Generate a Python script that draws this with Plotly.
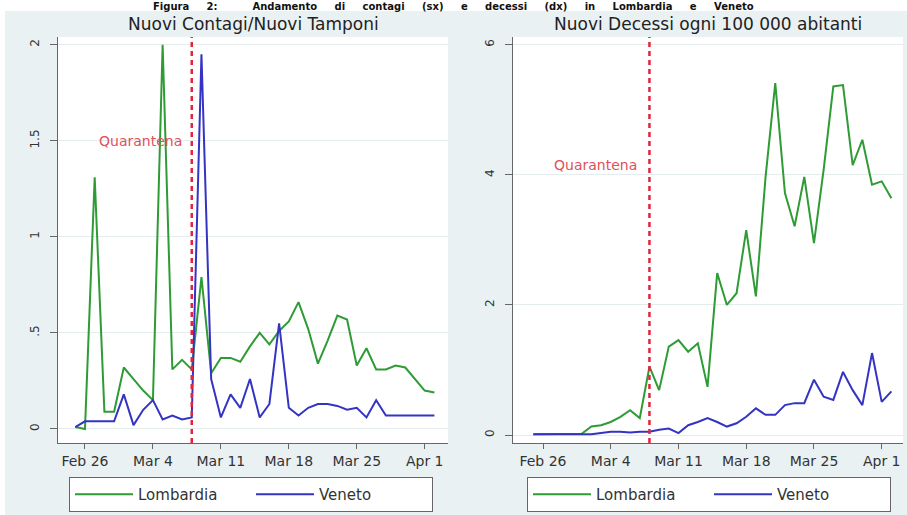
import pandas as pd
import plotly.graph_objects as go

# ---------------- data ----------------
dates = pd.date_range("2020-02-25", "2020-04-02", freq="D")

contagi_lombardia = [0.01, 0.00, 1.31, 0.09, 0.09, 0.32, 0.26, 0.20, 0.15, 2.00,
                     0.31, 0.36, 0.31, 0.79, 0.29, 0.37, 0.37, 0.35, 0.43, 0.50,
                     0.44, 0.51, 0.56, 0.66, 0.52, 0.34, 0.46, 0.59, 0.57, 0.33,
                     0.42, 0.31, 0.31, 0.33, 0.32, 0.26, 0.20, 0.19]
contagi_veneto = [0.01, 0.04, 0.04, 0.04, 0.04, 0.18, 0.02, 0.10, 0.15, 0.05,
                  0.07, 0.05, 0.06, 1.95, 0.26, 0.06, 0.18, 0.11, 0.26, 0.06,
                  0.13, 0.55, 0.11, 0.07, 0.11, 0.13, 0.13, 0.12, 0.10, 0.11,
                  0.06, 0.15, 0.07, 0.07, 0.07, 0.07, 0.07, 0.07]
decessi_lombardia = [0.01, 0.01, 0.02, 0.02, 0.02, 0.02, 0.13, 0.15, 0.20, 0.28,
                     0.38, 0.26, 1.05, 0.69, 1.36, 1.46, 1.28, 1.41, 0.74, 2.49,
                     2.00, 2.18, 3.15, 2.13, 3.97, 5.41, 3.72, 3.21, 3.97, 2.95,
                     4.08, 5.36, 5.38, 4.15, 4.54, 3.85, 3.90, 3.64]
decessi_veneto = [0.01, 0.01, 0.01, 0.01, 0.01, 0.01, 0.01, 0.03, 0.05, 0.05,
                  0.04, 0.05, 0.05, 0.08, 0.10, 0.03, 0.15, 0.20, 0.26, 0.20,
                  0.13, 0.18, 0.28, 0.41, 0.31, 0.31, 0.46, 0.49, 0.49, 0.85,
                  0.59, 0.54, 0.97, 0.69, 0.46, 1.26, 0.51, 0.67]

x_tickvals = ["2020-02-26", "2020-03-04", "2020-03-11", "2020-03-18", "2020-03-25", "2020-04-01"]
x_ticktext = ["Feb 26", "Mar 4", "Mar 11", "Mar 18", "Mar 25", "Apr 1"]
y1_tickvals = [0, 0.5, 1, 1.5, 2]
y1_ticktext = ["0", ".5", "1", "1.5", "2"]
y2_tickvals = [0, 2, 4, 6]
y2_ticktext = ["0", "2", "4", "6"]
quarantena_date = "2020-03-08"
series_names = ["Lombardia", "Veneto"]
caption = "Figura 2:  Andamento di contagi (sx) e decessi (dx) in Lombardia e Veneto"

# ---------------- styling ----------------
W, H = 907, 515
BG = "#EAF1F3"
GREEN = "#2F9B35"
BLUE = "#3434C4"
RED = "#E3243B"
FONT = "DejaVu Sans"

def px_x(p):
    return p / W

def px_y(p):
    return (H - p) / H

base = pd.Timestamp("2020-02-26")
def day(off):
    return base + pd.Timedelta(days=off)

fig = go.Figure()

fig.add_trace(go.Scatter(x=dates, y=contagi_lombardia, mode="lines", name=series_names[0],
                         line=dict(color=GREEN, width=2), xaxis="x", yaxis="y", legend="legend"))
fig.add_trace(go.Scatter(x=dates, y=contagi_veneto, mode="lines", name=series_names[1],
                         line=dict(color=BLUE, width=2), xaxis="x", yaxis="y", legend="legend"))
fig.add_trace(go.Scatter(x=dates, y=decessi_lombardia, mode="lines", name=series_names[0],
                         line=dict(color=GREEN, width=2), xaxis="x2", yaxis="y2", legend="legend2"))
fig.add_trace(go.Scatter(x=dates, y=decessi_veneto, mode="lines", name=series_names[1],
                         line=dict(color=BLUE, width=2), xaxis="x2", yaxis="y2", legend="legend2"))

xaxis_common = dict(type="date", tickmode="array", tickvals=x_tickvals, ticktext=x_ticktext,
                    showgrid=False, zeroline=False, showline=True, linecolor="#666", linewidth=1,
                    ticks="outside", ticklen=5, tickcolor="#666",
                    tickfont=dict(family=FONT, size=14, color="#333"))
yaxis_common = dict(showgrid=True, gridcolor="#E4ECEE", gridwidth=1, zeroline=False,
                    showline=True, linecolor="#666", linewidth=1, ticks="outside", ticklen=7,
                    tickcolor="#666", tickangle=-90, tickmode="array", ticklabelstandoff=6,
                    tickfont=dict(family=FONT, size=12, color="#333"))

legend_common = dict(xanchor="left", y=px_y(477), yanchor="top", orientation="h",
                     bgcolor="white", bordercolor="#666", borderwidth=1,
                     font=dict(family=FONT, size=15, color="#333"),
                     itemwidth=58, entrywidth=108, entrywidthmode="pixels")

fig.update_layout(
    width=W, height=H,
    margin=dict(l=0, r=0, t=0, b=0),
    paper_bgcolor=BG, plot_bgcolor="white",
    xaxis=dict(domain=[px_x(58), px_x(448)], range=[day(-2.78), day(37.4)], anchor="y", **xaxis_common),
    yaxis=dict(domain=[px_y(443), px_y(37)], range=[-0.073, 2.04], anchor="x",
               tickvals=y1_tickvals, ticktext=y1_ticktext, **yaxis_common),
    xaxis2=dict(domain=[px_x(513), px_x(903)], range=[day(-3.1), day(37.2)], anchor="y2", **xaxis_common),
    yaxis2=dict(domain=[px_y(443), px_y(37)], range=[-0.123, 6.12], anchor="x2",
                tickvals=y2_tickvals, ticktext=y2_ticktext, **yaxis_common),
    legend=dict(x=px_x(69), **legend_common),
    legend2=dict(x=px_x(527), **legend_common),
    showlegend=True,
)

# quarantine lines
for xr in ["x", "x2"]:
    fig.add_shape(type="line", xref=xr, yref=("y" if xr == "x" else "y2") + " domain",
                  x0=quarantena_date, x1=quarantena_date, y0=0, y1=1,
                  line=dict(color=RED, width=2.5, dash="5px,4px"))

fig.add_annotation(x=quarantena_date, xref="x", y=1.5, yref="y", text="Quarantena",
                   showarrow=False, xanchor="right", xshift=-8,
                   font=dict(family=FONT, size=14, color="#E0505A"))
fig.add_annotation(x=quarantena_date, xref="x2", y=4.15, yref="y2", text="Quarantena",
                   showarrow=False, xanchor="right", xshift=-10,
                   font=dict(family=FONT, size=14, color="#E0505A"))

# panel titles
fig.add_annotation(x=px_x(253), y=px_y(24), xref="paper", yref="paper",
                   text="Nuovi Contagi/Nuovi Tamponi", showarrow=False,
                   xanchor="center", yanchor="middle",
                   font=dict(family=FONT, size=17, color="#222"))
fig.add_annotation(x=px_x(708), y=px_y(24), xref="paper", yref="paper",
                   text="Nuovi Decessi ogni 100 000 abitanti", showarrow=False,
                   xanchor="center", yanchor="middle",
                   font=dict(family=FONT, size=17, color="#222"))

# white strip at top with figure caption
fig.add_shape(type="rect", xref="paper", yref="paper", x0=0, x1=1, y0=px_y(11), y1=1,
              fillcolor="white", line=dict(width=0), layer="below")
fig.add_shape(type="rect", xref="paper", yref="paper", x0=0, x1=px_x(5), y0=0, y1=1,
              fillcolor="white", line=dict(width=0), layer="below")
fig.add_annotation(x=0.5, y=1, xref="paper", yref="paper",
                   text=caption.replace(" ", "\u00a0" * 5),
                   showarrow=False, xanchor="center", yanchor="top", yshift=1,
                   font=dict(family=FONT, size=10, color="#111", weight="bold"))

fig.write_html("out.html")
